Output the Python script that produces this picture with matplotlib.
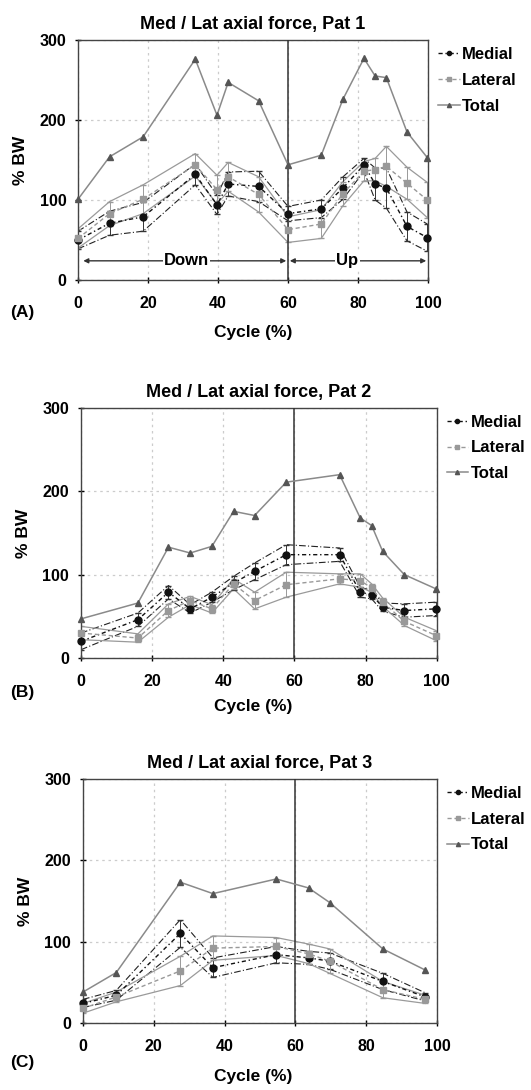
import matplotlib.pyplot as plt
import numpy as np

plt.rcParams['font.family'] = ['Liberation Sans', 'DejaVu Sans']
plt.rcParams['font.weight'] = 'bold'

# Patient 1
x_a = [0, 9, 18.6, 33.5, 39.7, 42.9, 51.6, 60, 69.5, 75.7, 81.7, 84.9, 88.1, 94, 99.8]
med_a = [50, 71, 79, 132, 94, 120, 117, 83, 89, 115, 144, 120, 115, 67, 53]
med_sd_a = [11, 15, 18, 13, 12, 15, 19, 9, 11, 14, 8, 20, 25, 18, 17]
lat_a = [52, 83, 101, 144, 113, 129, 107, 63, 70, 108, 136, 138, 142, 121, 100]
lat_sd_a = [12, 15, 18, 14, 18, 18, 22, 16, 18, 15, 12, 14, 25, 20, 22]
tot_a = [101, 154, 179, 276, 206, 247, 224, 144, 156, 226, 277, 255, 253, 185, 153]

# Patient 2
x_b = [0, 16, 24.6, 30.7, 36.8, 42.9, 48.8, 57.7, 72.7, 78.5, 81.7, 84.8, 90.9, 99.8]
med_b = [20, 46, 79, 59, 73, 90, 104, 124, 124, 79, 76, 61, 57, 59]
med_sd_b = [10, 8, 8, 5, 6, 8, 10, 12, 8, 6, 5, 5, 8, 8]
lat_b = [30, 24, 57, 69, 59, 89, 69, 88, 95, 93, 84, 67, 44, 27]
lat_sd_b = [8, 5, 8, 5, 5, 6, 10, 15, 6, 8, 5, 5, 5, 6]
tot_b = [47, 66, 133, 126, 134, 176, 171, 211, 220, 168, 159, 128, 100, 83]

# Patient 3
x_c = [0, 9.4, 27.5, 36.7, 54.6, 63.7, 69.7, 84.7, 96.7]
med_c = [24, 34, 110, 68, 84, 80, 76, 51, 32]
med_sd_c = [5, 6, 17, 12, 10, 8, 10, 10, 5]
lat_c = [18, 32, 64, 92, 94, 85, 76, 41, 29]
lat_sd_c = [6, 6, 18, 15, 11, 12, 15, 10, 5]
tot_c = [38, 62, 173, 159, 177, 166, 148, 91, 65]

panels = [
    ('Med / Lat axial force, Pat 1', '(A)', x_a, med_a, med_sd_a, lat_a, lat_sd_a, tot_a,
     [0.147, 0.7431, 0.659, 0.2202], 313, 333),
    ('Med / Lat axial force, Pat 2', '(B)', x_b, med_b, med_sd_b, lat_b, lat_sd_b, tot_b,
     [0.1525, 0.3963, 0.670, 0.2294], 693, 707),
    ('Med / Lat axial force, Pat 3', '(C)', x_c, med_c, med_sd_c, lat_c, lat_sd_c, tot_c,
     [0.1563, 0.0615, 0.6667, 0.2239], 1062, 1077),
]

W, H = 531, 1090
fig = plt.figure(figsize=(W / 100, H / 100), dpi=100)

for title, tag, x, med, msd, lat, lsd, tot, pos, tag_y, lab_y in panels:
    ax = fig.add_axes(pos)
    x = np.array(x)
    med, msd = np.array(med), np.array(msd)
    lat, lsd = np.array(lat), np.array(lsd)

    # SD bands
    ax.plot(x, med + msd, color='#222222', lw=0.8, ls=(0, (6, 2, 1, 2)))
    ax.plot(x, med - msd, color='#222222', lw=0.8, ls=(0, (6, 2, 1, 2)))
    ax.plot(x, lat + lsd, color='#9a9a9a', lw=0.9)
    ax.plot(x, lat - lsd, color='#9a9a9a', lw=0.9)
    ax.errorbar(x, med, yerr=msd, fmt='none', ecolor='#333333', elinewidth=0.7, capsize=2.5)
    ax.errorbar(x, lat, yerr=lsd, fmt='none', ecolor='#999999', elinewidth=0.7, capsize=2.5)

    ax.plot(x, med, color='#111111', lw=1.0, ls=(0, (3, 2, 1, 2)), marker='o',
            ms=5, mfc='#111111', mec='#111111', label='Medial', clip_on=False, zorder=4)
    ax.plot(x, lat, color='#999999', lw=1.0, ls=(0, (3, 2)), marker='s',
            ms=5, mfc='#999999', mec='#999999', label='Lateral', clip_on=False, zorder=4)
    ax.plot(x, tot, color='#8a8a8a', lw=1.1, marker='^', ms=5,
            mfc='#555555', mec='#555555', label='Total', clip_on=False, zorder=4)

    ax.axvline(60, color='#333333', lw=1.1, zorder=3)
    ax.set_xlim(0, 100)
    ax.set_ylim(0, 300)
    ax.set_xticks(range(0, 101, 20))
    ax.set_yticks([0, 100, 200, 300])
    ax.grid(True, color='#cccccc', ls=(0, (2, 3)), lw=0.9)
    ax.tick_params(direction='inout', length=5, width=1, labelsize=11.5, pad=9)
    ax.tick_params(axis='y', pad=6)
    for s in ax.spines.values():
        s.set_color('#444444')
        s.set_linewidth(1.0)

    ax.set_title(title, fontsize=13, fontweight='bold', pad=8)
    ax.set_ylabel('% BW', fontsize=12.5, fontweight='bold', labelpad=8)
    fig.text(253 / W, 1 - lab_y / H, 'Cycle (%)', ha='center', va='center',
             fontsize=12.5, fontweight='bold')
    fig.text(10 / W, 1 - tag_y / H, tag, ha='left', va='center', fontsize=12.5, fontweight='bold')

    ax.legend(loc='upper left', bbox_to_anchor=(0.995, 1.02), frameon=False, fontsize=12,
              handlelength=1.3, handletextpad=0.15, labelspacing=0.65, borderaxespad=0.3,
              markerscale=0.6)

    if tag == '(A)':
        ax.annotate('', xy=(1.5, 24), xytext=(59.5, 24),
                    arrowprops=dict(arrowstyle='<|-|>', color='#333333', lw=1,
                                    mutation_scale=7, shrinkA=0, shrinkB=0))
        ax.annotate('', xy=(60.5, 24), xytext=(99.5, 24),
                    arrowprops=dict(arrowstyle='<|-|>', color='#333333', lw=1,
                                    mutation_scale=7, shrinkA=0, shrinkB=0))
        ax.text(31, 25, 'Down', ha='center', va='center', fontsize=12, fontweight='bold',
                bbox=dict(facecolor='white', edgecolor='none', pad=1))
        ax.text(77, 25, 'Up', ha='center', va='center', fontsize=12, fontweight='bold',
                bbox=dict(facecolor='white', edgecolor='none', pad=1))

fig.savefig('out.png', dpi=100)
